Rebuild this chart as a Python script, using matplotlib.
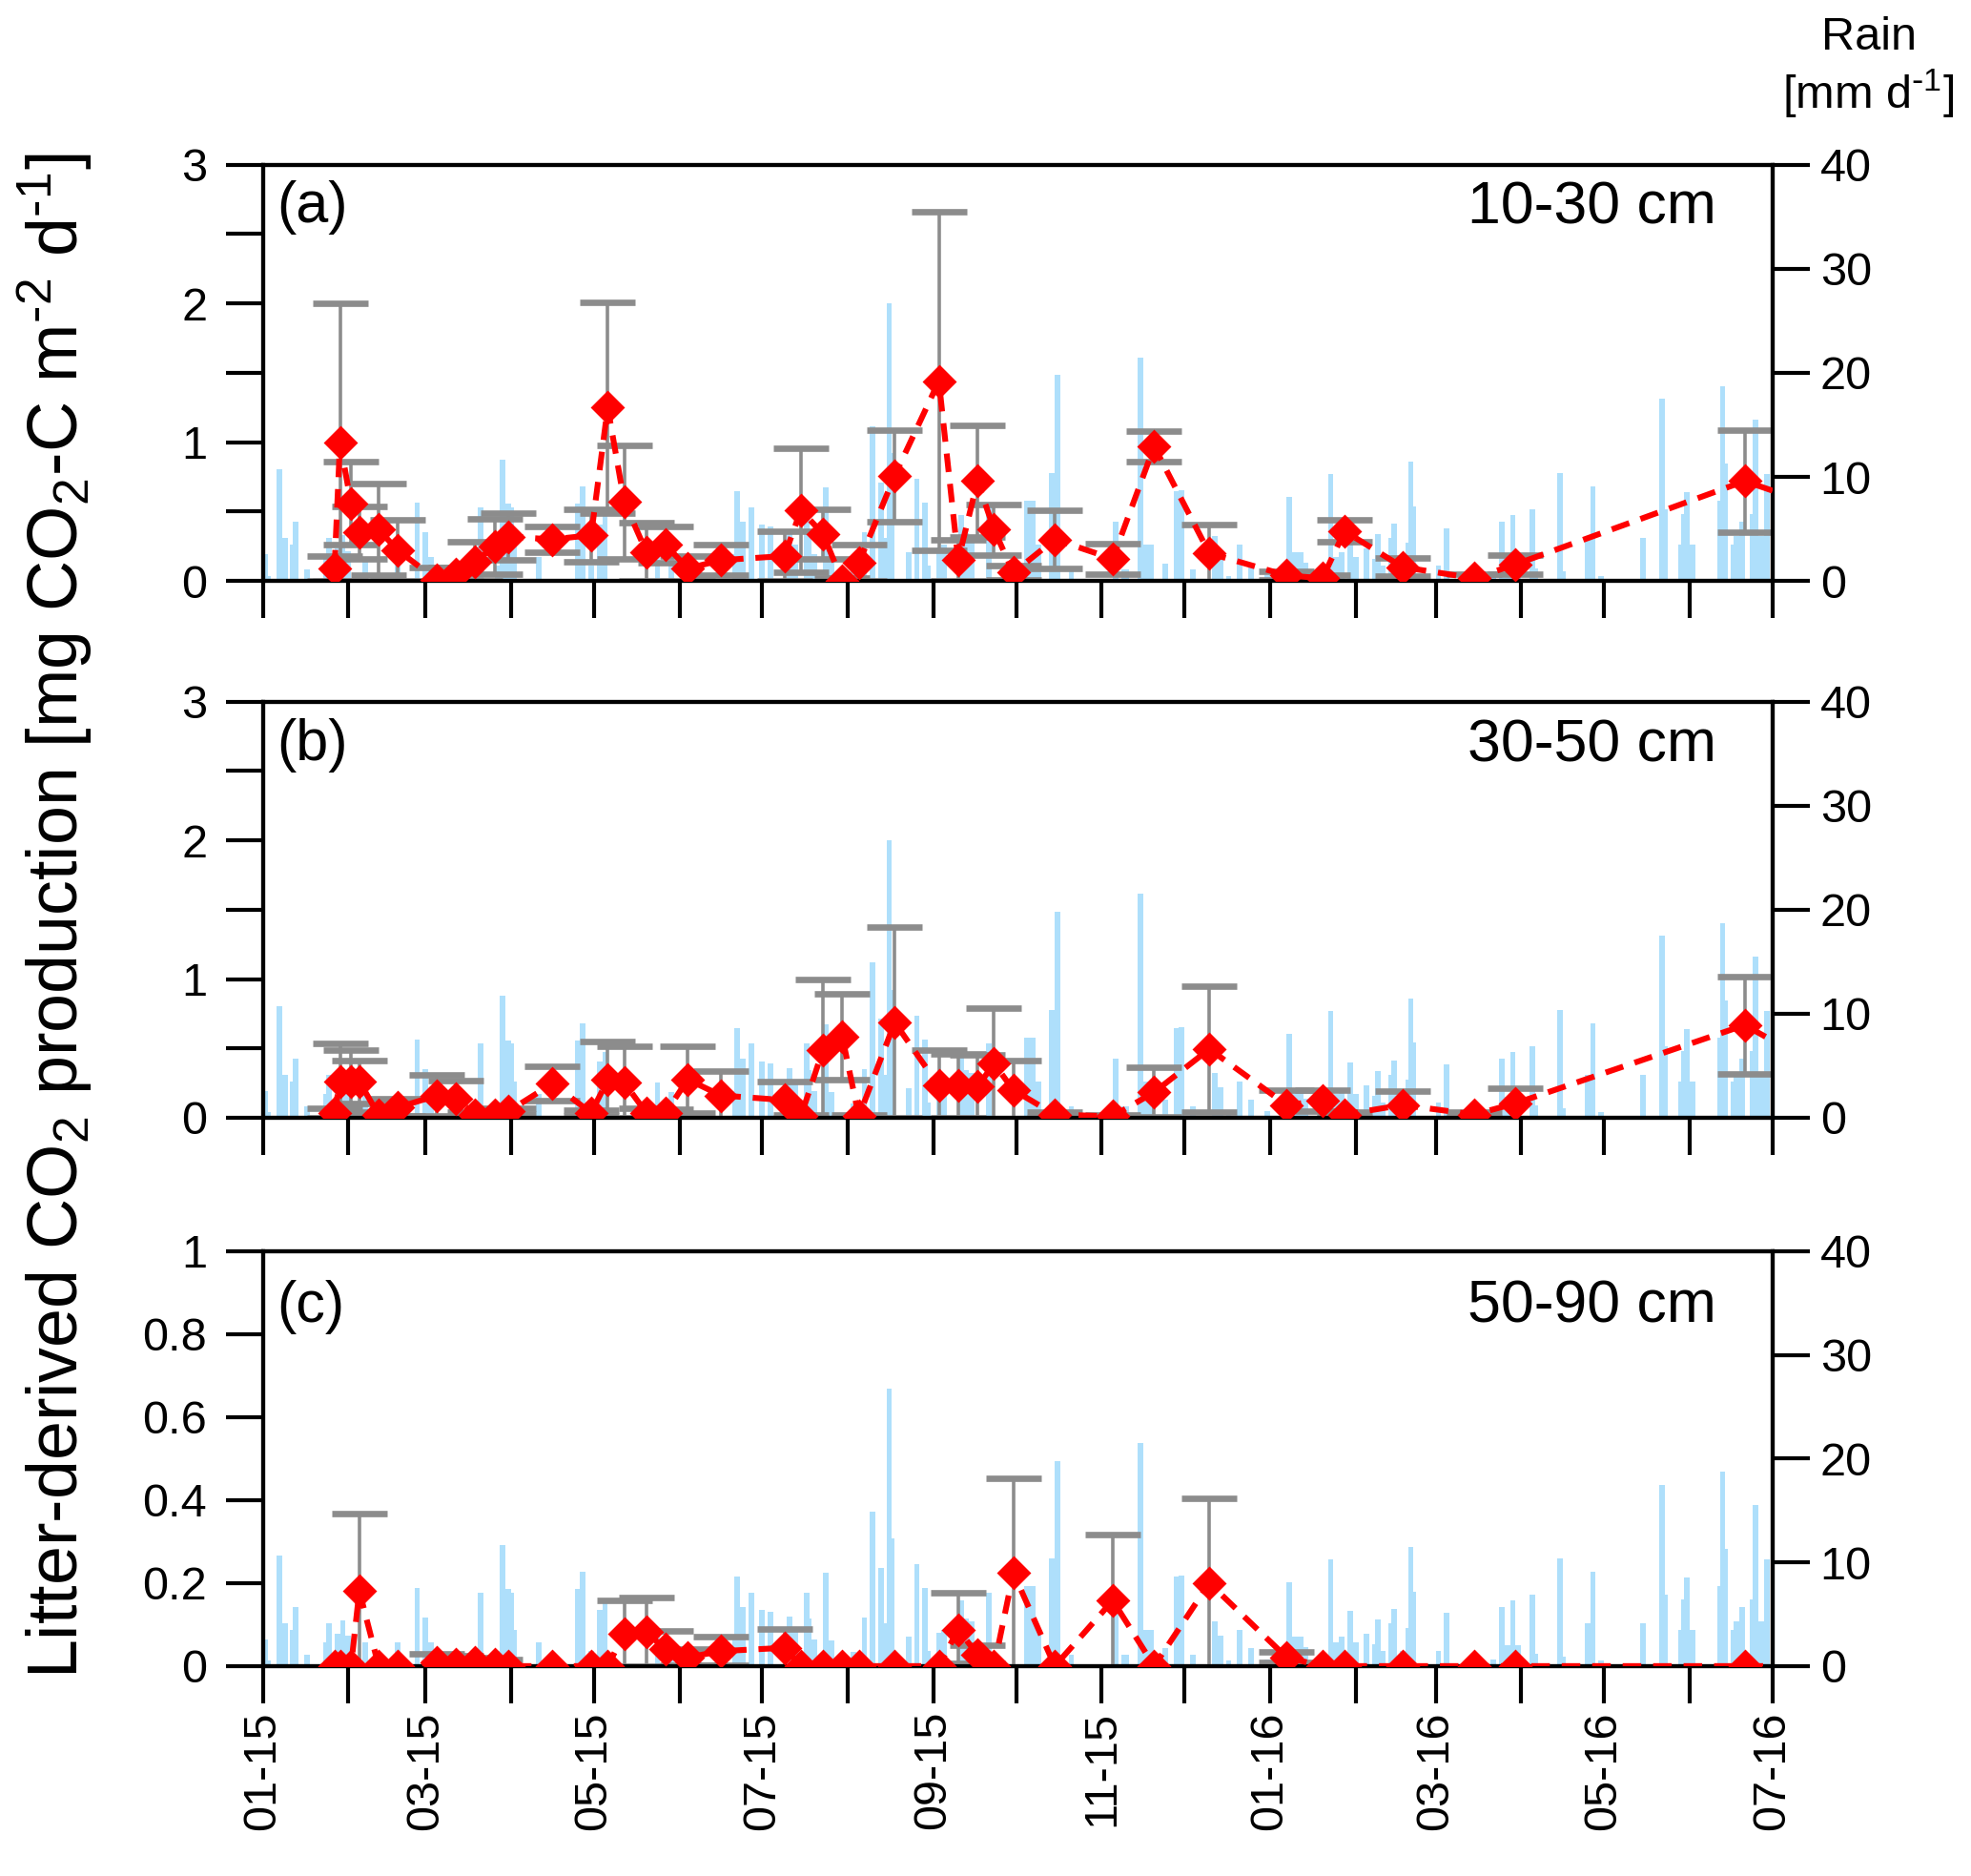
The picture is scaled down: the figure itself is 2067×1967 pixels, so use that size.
import matplotlib
matplotlib.use("Agg")
import matplotlib.pyplot as plt
import matplotlib.dates as mdates
import matplotlib.ticker as mticker
import numpy as np
import pandas as pd

plt.rcParams["font.family"] = ["Liberation Sans", "DejaVu Sans"]
plt.rcParams["mathtext.default"] = "regular"
plt.rcParams["lines.scale_dashes"] = False

# sampling dates (last one lies just past the plotted range)
sample_dates = [
    "2015-01-27", "2015-01-29", "2015-02-02", "2015-02-05", "2015-02-12", "2015-02-19",
    "2015-03-05", "2015-03-12", "2015-03-19", "2015-03-26", "2015-03-31", "2015-04-16",
    "2015-04-30", "2015-05-06", "2015-05-12", "2015-05-20", "2015-05-27", "2015-06-04",
    "2015-06-16", "2015-07-09", "2015-07-15", "2015-07-23", "2015-07-30", "2015-08-05",
    "2015-08-18", "2015-09-03", "2015-09-10", "2015-09-17", "2015-09-23", "2015-09-30",
    "2015-10-15", "2015-11-05", "2015-11-20", "2015-12-10", "2016-01-07", "2016-01-20",
    "2016-01-28", "2016-02-18", "2016-03-15", "2016-03-30", "2016-06-21", "2016-07-10",
]

# litter-derived CO2 production, 10-30 cm
prod_a = [0.09, 1.00, 0.56, 0.35, 0.37, 0.22, 0.01, 0.05, 0.14, 0.25, 0.32, 0.30,
          0.33, 1.25, 0.57, 0.21, 0.26, 0.09, 0.15, 0.18, 0.51, 0.34, 0.00, 0.13,
          0.76, 1.44, 0.15, 0.72, 0.37, 0.06, 0.30, 0.16, 0.97, 0.20, 0.04, 0.02,
          0.36, 0.10, 0.02, 0.12, 0.72, 0.59]
err_a = [0.09, 1.00, 0.30, 0.19, 0.33, 0.22, 0.09, 0.05, 0.14, 0.20, 0.17, 0.09,
         0.19, 0.76, 0.41, 0.21, 0.13, 0.09, 0.11, 0.18, 0.45, 0.18, 0.02, 0.13,
         0.33, 1.22, 0.15, 0.40, 0.18, 0.05, 0.21, 0.11, 0.11, 0.21, 0.03, 0.025,
         0.08, 0.065, 0.03, 0.07, 0.37, 0.0]

# 30-50 cm
prod_b = [0.035, 0.26, 0.26, 0.26, 0.02, 0.074, 0.16, 0.134, 0.023, 0.023, 0.046, 0.247,
          0.035, 0.272, 0.253, 0.035, 0.035, 0.276, 0.161, 0.127, 0.01, 0.49, 0.583, 0.01,
          0.687, 0.23, 0.23, 0.224, 0.39, 0.2, 0.023, 0.01, 0.184, 0.495, 0.092, 0.122,
          0.023, 0.092, 0.023, 0.104, 0.668, 0.456]
err_b = [0.035, 0.275, 0.23, 0.155, 0.02, 0.064, 0.15, 0.136, 0.02, 0.023, 0.02, 0.122,
         0.023, 0.276, 0.261, 0.035, 0.025, 0.24, 0.173, 0.131, 0.01, 0.51, 0.31, 0.01,
         0.686, 0.26, 0.23, 0.23, 0.40, 0.215, 0.02, 0.01, 0.178, 0.455, 0.106, 0.075,
         0.02, 0.099, 0.02, 0.11, 0.35, 0.0]

# 50-90 cm
prod_c = [0, 0, 0, 0.181, 0, 0, 0.01, 0.005, 0.01, 0.005, 0, 0,
          0, 0, 0.078, 0.082, 0.04, 0.021, 0.036, 0.044, 0, 0, 0, 0,
          0, 0, 0.088, 0.028, 0, 0.225, 0, 0.158, 0, 0.2, 0.021, 0,
          0, 0, 0, 0, 0, 0]
err_c = [0, 0, 0, 0.186, 0, 0, 0.02, 0.02, 0.01, 0.01, 0, 0,
         0, 0, 0.081, 0.083, 0.045, 0.02, 0.035, 0.046, 0, 0, 0, 0,
         0, 0, 0.089, 0.022, 0, 0.227, 0, 0.16, 0, 0.204, 0.013, 0,
         0, 0, 0, 0, 0, 0]

# daily rain: day number since 2015-01-01 and amount in mm
rain_day = [1, 2, 6, 8, 11, 12, 16, 23, 24, 27, 29, 31, 37, 49, 56, 59, 61, 79, 85, 87,
            89, 90, 91, 100, 114, 116, 119, 122, 124, 143, 148, 171, 172, 174, 177, 181,
            184, 191, 193, 197, 198, 200, 204, 206, 214, 218, 221, 224, 226, 227, 228,
            234, 237, 240, 241, 245, 247, 253, 255, 257, 263, 277, 279, 281, 286, 288,
            293, 309, 312, 313, 318, 320, 322, 327, 331, 333, 337, 345, 347, 350, 354,
            358, 364, 372, 374, 376, 378, 387, 389, 391, 394, 396, 400, 403, 404, 406,
            409, 410, 413, 415, 416, 417, 426, 429, 446, 449, 451, 453, 455, 460, 461,
            470, 471, 480, 482, 485, 500, 507, 508, 514, 515, 516, 518, 528, 529, 530,
            533, 534, 536, 540, 541, 543, 545]
rain_mm = [2.6, 0.5, 10.7, 4.1, 3.5, 5.7, 1.1, 2.3, 4.1, 3.1, 4.4, 2.9, 2.3, 2.3, 7.5, 4.7,
           2.3, 7.1, 1.5, 11.7, 7.4, 7.1, 3.5, 2.3, 7.4, 9.1, 1.5, 5.4, 6.3, 3.4, 2.5, 2.6,
           8.6, 5.7, 7.1, 5.4,
           5.2, 4.8, 3.5, 7.1, 4.6, 2.6, 9.0, 2.5, 1.4, 4.7, 14.9, 9.5, 4.1, 26.7, 12.3,
           2.8, 9.8, 7.5, 1.5, 3.2, 3.5, 6.3, 4.6, 4.3, 7.1, 7.7, 7.7, 3.5, 10.4, 19.8,
           1.1, 5.7, 1.1, 1.1, 21.5, 3.5, 3.5, 1.7, 8.6, 8.7, 1.1, 4.3, 2.9, 0.5, 3.5,
           1.7, 0.6, 8.1, 2.8, 2.8, 1.8, 10.3, 2.3, 2.8, 5.3, 2.3, 3.1, 2.1, 4.5, 1.5,
           4.1, 5.5, 1.5, 3.7, 11.5, 7.2, 1.5, 5.1, 0.6, 5.7, 2.0, 6.3, 2.0, 6.9, 1.2,
           10.4, 0.9, 4.1, 9.1, 0.5, 4.1, 17.5, 6.9, 3.5, 6.4, 8.5, 3.5, 7.7, 18.7, 11.3,
           3.5, 4.3, 5.7, 6.4, 15.5, 4.3, 10.3]

panel_tags = ["(a)", "(b)", "(c)"]
depths = ["10-30 cm", "30-50 cm", "50-90 cm"]

x = pd.to_datetime(sample_dates)
rain_x = pd.Timestamp("2015-01-01") + pd.to_timedelta(rain_day, unit="D")

fig = plt.figure(figsize=(2067 / 200, 1967 / 200), dpi=200)

left, width = 0.1333, 0.7659
bottoms = [0.6903, 0.4042, 0.1119]
heights = [0.2219, 0.2218, 0.2212]
text_y = [0.897, 0.894, 0.866]
series = [(prod_a, err_a), (prod_b, err_b), (prod_c, err_c)]

xmin, xmax = pd.Timestamp("2015-01-01"), pd.Timestamp("2016-07-01")
tick_fs = 17.5

for i in range(3):
    ax = fig.add_axes([left, bottoms[i], width, heights[i]])
    ax2 = ax.twinx()
    ax.set_zorder(ax2.get_zorder() + 1)
    ax.patch.set_visible(False)

    ax2.bar(rain_x, rain_mm, width=2.0, color="#aedffb", edgecolor="none", zorder=1)
    ax2.set_ylim(0, 40)
    ax2.set_yticks([0, 10, 20, 30, 40])

    y = np.array(series[i][0])
    e = np.array(series[i][1])
    m = e > 0
    ax.errorbar(x[m], y[m], yerr=e[m], fmt="none", ecolor="#8c8c8c",
                elinewidth=1.3, capsize=10.5, capthick=2.4, zorder=2)
    ax.plot(x, y, color="red", ls=(0, (7, 4.5)), lw=2.2, marker="D", ms=8,
            mfc="red", mec="red", zorder=3)

    if i < 2:
        ax.set_ylim(0, 3)
        ax.set_yticks(np.arange(0, 3.01, 0.5))
        ax.yaxis.set_major_formatter(
            mticker.FuncFormatter(lambda v, p: "%d" % v if abs(v - round(v)) < 1e-6 else ""))
    else:
        ax.set_ylim(0, 1)
        ax.set_yticks([0, 0.2, 0.4, 0.6, 0.8, 1.0])
        ax.yaxis.set_major_formatter(
            mticker.FuncFormatter(lambda v, p: "%d" % v if abs(v - round(v)) < 1e-6 else "%.1f" % v))

    ax.set_xlim(xmin, xmax)
    ax.xaxis.set_major_locator(mdates.MonthLocator())
    if i == 2:
        ax.xaxis.set_major_formatter(
            mticker.FuncFormatter(lambda v, p: mdates.num2date(v).strftime("%m-%y")
                                  if mdates.num2date(v).month % 2 == 1 else ""))
    else:
        ax.tick_params(axis="x", labelbottom=False)

    ax.tick_params(axis="both", direction="out", length=14, width=1.5, labelsize=tick_fs)
    ax.tick_params(axis="y", pad=7)
    ax.tick_params(axis="x", pad=3, labelrotation=90)
    ax2.tick_params(axis="y", direction="out", length=14, width=1.5, labelsize=tick_fs, pad=4)
    for sp in list(ax.spines.values()) + list(ax2.spines.values()):
        sp.set_linewidth(1.5)

    ax.text(0.009, text_y[i], panel_tags[i], transform=ax.transAxes,
            ha="left", va="center", fontsize=22)
    ax.text(0.963, text_y[i], depths[i], transform=ax.transAxes,
            ha="right", va="center", fontsize=22.5)

fig.text(0.028, 0.512,
         r"Litter-derived CO$_2$ production [mg CO$_2$-C m$^{\text{-}2}$ d$^{\text{-}1}$]",
         rotation=90, ha="center", va="center", fontsize=26.5)
fig.text(0.948, 0.980, "Rain", ha="center", va="center", fontsize=17.5)
fig.text(0.948, 0.950, r"[mm d$^{\text{-}1}$]", ha="center", va="center", fontsize=17.5)

fig.savefig("out.png", dpi=200)
